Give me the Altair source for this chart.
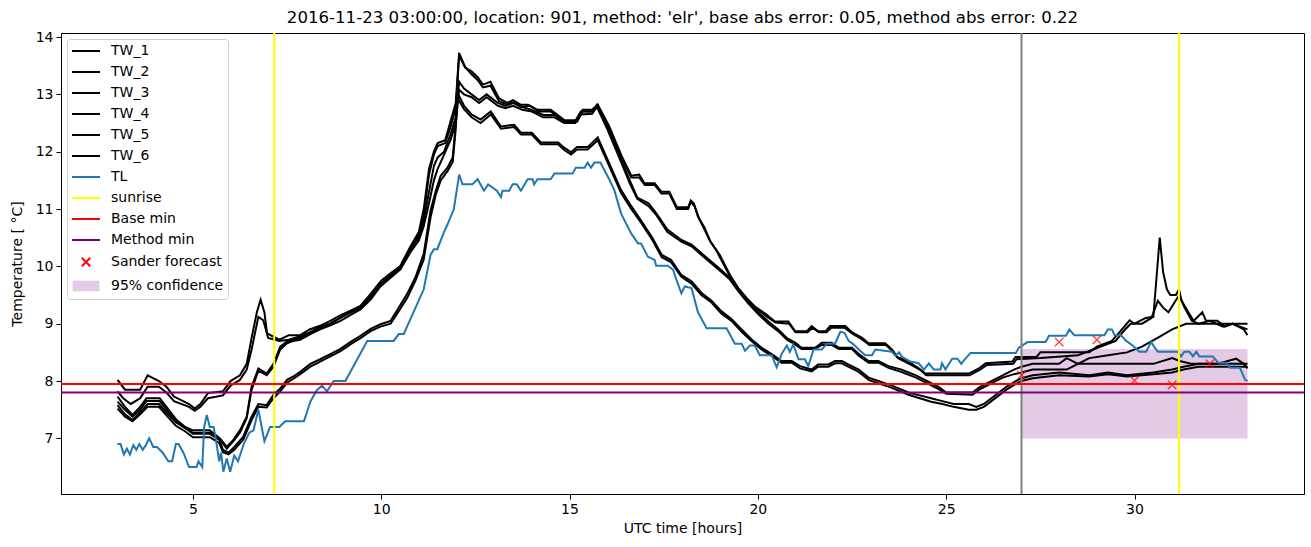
import altair as alt
import pandas as pd

# ---------------- data ----------------
tw1 = [(3.0,8.02),(3.2,7.85),(3.6,7.85),(3.8,8.1),(4.1,8.0),(4.3,7.9),(4.5,7.73),(4.9,7.6),(5.05,7.52),(5.2,7.6),(5.4,7.79),(5.8,7.82),(6.0,8.0),(6.25,8.1),(6.43,8.3),(6.56,8.75),(6.7,9.2),(6.8,9.42),(6.9,9.2),(6.97,8.83),(7.3,8.72),(7.55,8.8),(7.85,8.8),(8.1,8.9),(8.4,8.97),(8.65,9.05),(8.9,9.14),(9.2,9.23),(9.45,9.31),(9.72,9.52),(10.0,9.75),(10.25,9.88),(10.5,10.0),(10.78,10.35),(11.0,10.6),(11.13,11.0),(11.27,11.7),(11.4,12.0),(11.5,12.15),(11.7,12.2),(11.85,12.55),(11.98,12.85),(12.07,13.72),(12.24,13.46),(12.4,13.4),(12.56,13.3),(12.7,13.17),(12.9,13.22),(13.13,12.93),(13.35,12.85),(13.5,12.9),(13.7,12.82),(13.9,12.82),(14.15,12.73),(14.5,12.73),(14.86,12.55),(15.2,12.55),(15.35,12.73),(15.6,12.73),(15.75,12.82),(16.05,12.45),(16.38,11.93),(16.64,11.58),(16.85,11.6),(16.99,11.45),(17.26,11.45),(17.44,11.3),(17.65,11.3),(17.85,11.03),(18.15,11.03),(18.22,11.15),(18.3,11.1),(18.41,10.87),(18.59,10.67),(18.72,10.46),(18.86,10.32),(18.99,10.2),(19.26,9.85),(19.48,9.62),(19.7,9.45),(19.92,9.3),(20.23,9.16),(20.45,9.04),(20.81,9.04),(20.99,8.87),(21.3,8.87),(21.43,8.96),(21.6,8.87),(21.8,8.87),(21.92,8.96),(22.32,8.96),(22.5,8.85),(22.76,8.76),(22.94,8.66),(23.38,8.66),(23.56,8.55),(23.7,8.42),(24.0,8.34),(24.27,8.22),(24.45,8.13),(25.6,8.13),(25.87,8.22),(26.05,8.31),(26.76,8.34),(26.84,8.42),(27.4,8.42),(27.5,8.5),(28.8,8.5),(29.0,8.6),(29.4,8.7),(29.6,8.85),(29.87,9.06),(30.0,9.0),(30.3,9.1),(30.5,9.12),(30.67,10.5),(30.76,9.9),(30.86,9.6),(30.95,9.5),(31.1,9.5),(31.18,9.6),(31.25,9.4),(31.43,9.2),(31.57,9.05),(31.8,9.2),(31.9,9.05),(32.2,9.05),(32.4,8.95),(32.6,9.0),(32.9,8.9),(33.0,8.8)]

tw2 = [(3.0,7.82),(3.15,7.7),(3.35,7.6),(3.6,7.7),(3.8,7.9),(4.1,7.9),(4.3,7.8),(4.5,7.65),(4.9,7.55),(5.05,7.48),(5.2,7.55),(5.4,7.7),(5.8,7.75),(6.0,7.92),(6.25,8.02),(6.43,8.2),(6.56,8.55),(6.74,9.12),(6.87,9.06),(7.0,8.75),(7.3,8.7),(7.55,8.72),(7.85,8.78),(8.1,8.85),(8.4,8.93),(8.65,9.0),(8.9,9.1),(9.2,9.2),(9.45,9.27),(9.72,9.45),(10.0,9.7),(10.25,9.85),(10.5,9.95),(10.78,10.3),(11.0,10.55),(11.13,10.9),(11.27,11.6),(11.4,11.95),(11.5,12.1),(11.7,12.15),(11.85,12.45),(11.98,12.75),(12.07,13.68),(12.2,13.5),(12.4,13.35),(12.56,13.25),(12.7,13.12),(12.9,13.15),(13.13,12.88),(13.35,12.82),(13.5,12.86),(13.7,12.78),(13.95,12.8),(14.2,12.7),(14.5,12.7),(14.86,12.52),(15.2,12.52),(15.35,12.7),(15.6,12.7),(15.75,12.8),(16.05,12.4),(16.38,11.9),(16.64,11.55),(16.85,11.55),(17.0,11.42),(17.26,11.42),(17.44,11.27),(17.65,11.27),(17.85,11.0),(18.15,11.0),(18.22,11.12),(18.32,11.05),(18.45,10.82),(18.6,10.62),(18.75,10.42),(18.9,10.28),(19.0,10.15),(19.28,9.8),(19.5,9.6),(19.72,9.42),(19.95,9.27),(20.25,9.12),(20.47,9.02),(20.83,9.0),(21.0,8.85),(21.32,8.85),(21.45,8.93),(21.62,8.85),(21.82,8.85),(21.95,8.93),(22.3,8.93),(22.52,8.82),(22.78,8.72),(22.96,8.63),(23.4,8.63),(23.58,8.52),(23.72,8.4),(24.02,8.3),(24.3,8.2),(24.47,8.1),(25.62,8.1),(25.9,8.2),(26.08,8.28),(26.78,8.3),(26.87,8.38),(27.5,8.4),(28.5,8.45),(28.9,8.55),(29.5,8.7),(29.75,8.9),(29.9,9.0),(30.2,9.0),(30.45,9.1),(30.62,9.4),(30.76,9.28),(30.9,9.2),(31.09,9.4),(31.19,9.5),(31.33,9.28),(31.52,9.05),(31.7,9.0),(32.0,9.05),(32.35,8.95),(32.6,9.0),(33.0,8.9)]

tw3 = [(3.0,7.73),(3.2,7.55),(3.4,7.41),(3.6,7.55),(3.77,7.7),(4.12,7.7),(4.3,7.55),(4.57,7.32),(4.8,7.2),(5.0,7.14),(5.45,7.14),(5.72,7.0),(5.9,6.85),(6.07,6.97),(6.25,7.14),(6.43,7.38),(6.56,7.9),(6.74,8.22),(6.96,8.13),(7.14,8.3),(7.32,8.6),(7.5,8.69),(7.67,8.72),(7.85,8.75),(8.12,8.85),(8.38,8.95),(8.65,9.0),(8.92,9.1),(9.18,9.2),(9.45,9.3),(9.72,9.48),(9.98,9.7),(10.25,9.83),(10.51,9.98),(10.78,10.3),(11.0,10.5),(11.13,10.8),(11.27,11.3),(11.4,11.75),(11.5,11.9),(11.67,12.0),(11.84,12.3),(11.98,12.6),(12.07,13.22),(12.2,13.1),(12.4,13.0),(12.6,12.9),(12.8,13.0),(13.1,12.85),(13.3,12.8),(13.5,12.85),(13.75,12.78),(14.0,12.73),(14.3,12.64),(14.6,12.64),(14.86,12.53),(15.15,12.53),(15.3,12.7),(15.6,12.7),(15.73,12.82),(16.0,12.45),(16.37,11.86),(16.6,11.5),(16.8,11.2),(17.1,11.1),(17.3,10.93),(17.6,10.64),(17.97,10.46),(18.24,10.38),(18.59,10.18),(18.95,9.98),(19.26,9.8),(19.48,9.6),(19.75,9.38),(20.01,9.2),(20.28,9.04),(20.54,8.9),(20.77,8.75),(20.99,8.67),(21.16,8.58),(21.52,8.58),(21.7,8.67),(21.96,8.67),(22.15,8.58),(22.5,8.58),(22.68,8.47),(22.94,8.35),(23.2,8.35),(23.47,8.26),(23.8,8.2),(24.2,8.1),(24.5,8.0),(24.8,7.9),(25.0,7.8),(25.7,7.8),(25.9,7.9),(26.2,8.0),(26.5,8.1),(26.8,8.2),(27.0,8.25),(27.3,8.3),(28.0,8.3),(28.2,8.4),(28.5,8.3),(28.8,8.4),(29.3,8.45),(29.8,8.5),(30.2,8.6),(30.66,8.77),(31.0,8.9),(31.37,9.0),(33.0,9.0)]

tw4 = [(3.0,7.64),(3.2,7.5),(3.4,7.38),(3.6,7.5),(3.77,7.65),(4.12,7.65),(4.3,7.5),(4.57,7.28),(4.8,7.18),(5.0,7.1),(5.45,7.1),(5.72,6.98),(5.9,6.82),(6.07,6.95),(6.25,7.1),(6.43,7.35),(6.56,7.85),(6.74,8.18),(6.96,8.1),(7.14,8.25),(7.32,8.55),(7.5,8.66),(7.67,8.7),(7.85,8.72),(8.12,8.82),(8.38,8.9),(8.65,8.97),(8.92,9.05),(9.18,9.15),(9.45,9.25),(9.72,9.42),(9.98,9.65),(10.25,9.8),(10.51,9.95),(10.78,10.25),(11.0,10.45),(11.13,10.7),(11.27,11.1),(11.4,11.5),(11.5,11.7),(11.67,11.95),(11.84,12.2),(11.98,12.5),(12.07,13.08),(12.2,13.0),(12.4,12.95),(12.6,12.85),(12.8,12.95),(13.1,12.8),(13.3,12.76),(13.5,12.8),(13.75,12.73),(14.0,12.7),(14.3,12.6),(14.6,12.6),(14.86,12.5),(15.15,12.5),(15.3,12.65),(15.6,12.66),(15.73,12.78),(16.0,12.4),(16.37,11.82),(16.6,11.45),(16.8,11.18),(17.1,11.05),(17.3,10.9),(17.6,10.6),(17.97,10.43),(18.24,10.35),(18.59,10.15),(18.95,9.95),(19.26,9.77),(19.48,9.57),(19.75,9.35),(20.01,9.17),(20.28,9.0),(20.54,8.87),(20.77,8.72),(20.99,8.64),(21.16,8.56),(21.52,8.56),(21.7,8.63),(21.96,8.63),(22.15,8.56),(22.5,8.56),(22.68,8.44),(22.94,8.32),(23.2,8.32),(23.47,8.23),(23.8,8.16),(24.2,8.06),(24.5,7.96),(24.8,7.86),(25.0,7.78),(25.7,7.76),(25.9,7.86),(26.2,7.96),(26.5,8.06),(26.8,8.12),(27.0,8.15),(27.3,8.2),(28.2,8.2),(28.5,8.3),(29.0,8.3),(30.5,8.3),(31.0,8.4),(31.2,8.35),(31.5,8.3),(32.2,8.3),(32.7,8.39),(32.9,8.3),(33.0,8.22)]

tw5 = [(3.0,7.58),(3.2,7.42),(3.4,7.32),(3.6,7.45),(3.8,7.6),(4.1,7.6),(4.3,7.45),(4.55,7.28),(4.8,7.18),(5.0,7.08),(5.45,7.08),(5.7,6.98),(5.8,6.8),(5.95,6.75),(6.1,6.85),(6.34,7.03),(6.56,7.38),(6.74,7.6),(6.96,7.58),(7.14,7.76),(7.32,7.87),(7.5,8.02),(7.67,8.08),(7.85,8.16),(8.12,8.3),(8.38,8.38),(8.65,8.47),(8.92,8.56),(9.18,8.68),(9.45,8.79),(9.72,8.91),(9.98,8.99),(10.25,9.05),(10.42,9.23),(10.69,9.52),(10.91,9.81),(11.13,10.22),(11.31,10.97),(11.45,11.32),(11.58,11.58),(11.76,11.72),(11.9,11.9),(11.98,12.5),(12.03,13.02),(12.2,12.8),(12.4,12.65),(12.64,12.56),(12.91,12.7),(13.18,12.44),(13.53,12.47),(13.71,12.33),(14.0,12.33),(14.24,12.16),(14.7,12.16),(14.86,12.07),(15.04,11.99),(15.2,12.08),(15.48,12.08),(15.75,12.25),(16.02,11.85),(16.37,11.33),(16.64,11.05),(16.9,10.8),(17.2,10.5),(17.45,10.2),(17.7,10.11),(17.97,9.85),(18.24,9.74),(18.5,9.54),(18.77,9.4),(19.03,9.22),(19.3,9.08),(19.57,8.9),(19.83,8.73),(20.1,8.58),(20.37,8.47),(20.63,8.35),(20.9,8.35),(21.12,8.26),(21.43,8.2),(21.6,8.29),(21.87,8.29),(22.05,8.35),(22.23,8.35),(22.4,8.29),(22.68,8.2),(22.94,8.06),(23.2,8.0),(23.56,7.92),(24.0,7.8),(24.3,7.75),(24.6,7.7),(24.9,7.65),(25.2,7.6),(25.6,7.6),(25.8,7.55),(26.0,7.6),(26.2,7.7),(26.4,7.8),(26.6,7.9),(26.85,8.0),(27.0,8.05),(27.3,8.1),(28.0,8.15),(28.8,8.1),(29.3,8.15),(29.8,8.1),(30.5,8.15),(31.0,8.2),(31.3,8.25),(31.7,8.3),(33.0,8.3)]

tw6 = [(3.0,7.52),(3.2,7.38),(3.4,7.3),(3.6,7.42),(3.8,7.55),(4.1,7.55),(4.3,7.4),(4.55,7.22),(4.8,7.12),(5.0,7.02),(5.45,7.02),(5.7,6.92),(5.8,6.76),(5.95,6.72),(6.1,6.8),(6.34,6.98),(6.56,7.32),(6.74,7.55),(6.96,7.54),(7.14,7.7),(7.32,7.82),(7.5,7.97),(7.67,8.04),(7.85,8.12),(8.12,8.25),(8.38,8.34),(8.65,8.43),(8.92,8.52),(9.18,8.64),(9.45,8.75),(9.72,8.87),(9.98,8.95),(10.25,9.0),(10.42,9.17),(10.69,9.45),(10.91,9.75),(11.13,10.12),(11.31,10.85),(11.45,11.25),(11.58,11.5),(11.76,11.66),(11.9,11.82),(11.98,12.4),(12.03,12.93),(12.2,12.74),(12.4,12.6),(12.64,12.5),(12.91,12.65),(13.18,12.4),(13.53,12.43),(13.71,12.3),(14.0,12.3),(14.24,12.13),(14.7,12.13),(14.86,12.03),(15.04,11.95),(15.2,12.04),(15.48,12.04),(15.75,12.2),(16.02,11.8),(16.37,11.28),(16.64,11.0),(16.9,10.76),(17.2,10.46),(17.45,10.16),(17.7,10.07),(17.97,9.82),(18.24,9.7),(18.5,9.5),(18.77,9.37),(19.03,9.18),(19.3,9.05),(19.57,8.86),(19.83,8.7),(20.1,8.55),(20.37,8.44),(20.63,8.32),(20.9,8.32),(21.12,8.22),(21.43,8.17),(21.6,8.25),(21.87,8.25),(22.05,8.31),(22.23,8.31),(22.4,8.25),(22.68,8.16),(22.94,8.02),(23.2,7.96),(23.56,7.88),(24.0,7.76),(24.3,7.7),(24.6,7.64),(24.9,7.6),(25.2,7.55),(25.6,7.5),(25.8,7.5),(26.0,7.55),(26.2,7.65),(26.4,7.75),(26.6,7.85),(26.85,7.95),(27.0,8.0),(27.3,8.05),(28.0,8.1),(28.8,8.08),(29.3,8.12),(29.8,8.08),(30.5,8.12),(31.0,8.15),(31.3,8.2),(31.7,8.25),(33.0,8.25)]

tl = [(3.0,6.9),(3.08,6.9),(3.17,6.72),(3.25,6.82),(3.33,6.72),(3.42,6.88),(3.5,6.8),(3.58,6.9),(3.67,6.8),(3.75,6.88),(3.84,7.0),(3.95,6.85),(4.05,6.85),(4.2,6.75),(4.35,6.6),(4.45,6.6),(4.55,6.9),(4.62,6.9),(4.75,6.75),(4.9,6.5),(5.1,6.5),(5.15,6.6),(5.25,6.5),(5.3,7.2),(5.37,7.41),(5.45,7.2),(5.55,7.2),(5.62,6.95),(5.7,6.6),(5.75,6.75),(5.81,6.42),(5.9,6.65),(5.99,6.42),(6.1,6.7),(6.2,6.6),(6.35,6.9),(6.5,7.1),(6.61,7.14),(6.74,7.5),(6.9,6.95),(7.05,7.2),(7.3,7.2),(7.45,7.3),(7.95,7.3),(8.05,7.5),(8.12,7.64),(8.29,7.84),(8.43,7.92),(8.56,7.82),(8.74,8.0),(9.05,8.0),(9.63,8.7),(10.33,8.7),(10.47,8.82),(10.6,8.82),(11.13,9.6),(11.31,10.2),(11.4,10.3),(11.49,10.3),(11.67,10.6),(11.76,10.73),(11.93,11.0),(12.07,11.6),(12.16,11.43),(12.42,11.43),(12.56,11.52),(12.73,11.32),(12.84,11.43),(13.07,11.32),(13.18,11.21),(13.22,11.32),(13.4,11.32),(13.49,11.43),(13.6,11.43),(13.71,11.32),(13.89,11.52),(14.02,11.52),(14.06,11.43),(14.15,11.52),(14.5,11.52),(14.6,11.62),(15.08,11.62),(15.17,11.72),(15.4,11.72),(15.48,11.81),(15.57,11.72),(15.66,11.81),(15.82,11.81),(16.06,11.51),(16.19,11.33),(16.37,10.92),(16.64,10.57),(16.82,10.4),(16.9,10.4),(17.08,10.17),(17.26,10.11),(17.3,10.01),(17.61,10.01),(17.75,9.94),(17.81,9.82),(17.97,9.53),(18.06,9.65),(18.24,9.62),(18.41,9.2),(18.64,8.92),(19.17,8.92),(19.39,8.65),(19.57,8.65),(19.66,8.53),(19.79,8.62),(19.92,8.62),(20.05,8.45),(20.37,8.45),(20.5,8.24),(20.63,8.47),(20.77,8.62),(20.85,8.51),(20.94,8.64),(21.08,8.38),(21.25,8.38),(21.34,8.26),(21.48,8.55),(21.7,8.55),(21.83,8.65),(22.05,8.65),(22.19,8.86),(22.3,8.84),(22.41,8.7),(22.54,8.64),(22.68,8.55),(22.85,8.45),(23.03,8.45),(23.12,8.55),(23.56,8.51),(23.65,8.44),(23.75,8.5),(23.83,8.42),(24.05,8.34),(24.27,8.31),(24.41,8.2),(24.54,8.31),(24.67,8.2),(24.85,8.2),(24.89,8.31),(24.98,8.2),(25.16,8.39),(25.3,8.39),(25.4,8.3),(25.51,8.39),(25.65,8.49),(26.85,8.49),(26.93,8.58),(27.16,8.68),(27.64,8.68),(27.73,8.79),(28.18,8.79),(28.27,8.9),(28.4,8.8),(29.2,8.8),(29.29,8.9),(29.4,8.9),(29.47,8.8),(29.64,8.8),(29.78,8.7),(29.95,8.62),(30.13,8.51),(30.31,8.51),(30.44,8.68),(30.52,8.6),(30.62,8.51),(31.15,8.51),(31.24,8.43),(31.32,8.51),(31.46,8.51),(31.55,8.43),(31.64,8.51),(31.72,8.43),(32.08,8.43),(32.22,8.32),(32.44,8.32),(32.53,8.23),(32.8,8.23),(32.93,8.03),(33.0,8.0)]

sunrise_hours = [7.16, 31.18]
forecast_start = [27.0]
base_min = [7.95]
method_min = [7.8]
sander_hours = [27, 28, 29, 30, 31, 32]
sander_values = [8.1, 8.68, 8.72, 8.01, 7.93, 8.3]
conf_start, conf_end = [27.0], [33.0]
conf_low, conf_high = [7.0], [8.56]

legend_labels = ["TW_1", "TW_2", "TW_3", "TW_4", "TW_5", "TW_6", "TL", "sunrise",
                 "Base min", "Method min", "Sander forecast", "95% confidence"]

title_text = ("2016-11-23 03:00:00, location: 901, method: 'elr', "
              "base abs error: 0.05, method abs error: 0.22")

# ---------------- tables ----------------
rows = []
for name, pts in [("TW_1", tw1), ("TW_2", tw2), ("TW_3", tw3),
                  ("TW_4", tw4), ("TW_5", tw5), ("TW_6", tw6)]:
    for h, v in pts:
        rows.append({"series": name, "hour": h, "value": v})
tw_df = pd.DataFrame(rows)
tl_df = pd.DataFrame(tl, columns=["hour", "value"])
sun_df = pd.DataFrame({"hour": sunrise_hours})
now_df = pd.DataFrame({"hour": forecast_start})
base_df = pd.DataFrame({"value": base_min})
meth_df = pd.DataFrame({"value": method_min})
sander_df = pd.DataFrame({"hour": sander_hours, "value": sander_values})
conf_df = pd.DataFrame({"start": conf_start, "end": conf_end,
                        "low": conf_low, "high": conf_high})
legend_df = pd.DataFrame({"label": legend_labels})

FONT = "DejaVu Sans"
BLUE = "#1f77b4"
PINK = "#e4cae4"
# legend symbols (unit = 7 px at symbolSize 196), shifted right of the symbol column
LINE_PATH = "M-1,0L3,0"
X_PATH_LEG = "M0.4,-0.6L1.6,0.6M0.4,0.6L1.6,-0.6"
# solid patch: closely spaced stroked lines so the 2px strokes fill it completely
RECT_PATH = "".join("M-0.9,%sL2.9,%s" % (v, v) for v in
                    ["-0.6", "-0.45", "-0.3", "-0.15", "0", "0.15", "0.3", "0.45", "0.6"])
X_PATH = "M-1,-1L1,1M-1,1L1,-1"

xs = alt.Scale(domain=[1.5, 34.5], nice=False, zero=False)
ys = alt.Scale(domain=[6.03, 14.07], nice=False, zero=False)

x_axis = alt.Axis(values=[5, 10, 15, 20, 25, 30], title="UTC time [hours]", grid=False,
                  tickSize=5, labelPadding=3, titlePadding=5, format="d")
y_axis = alt.Axis(values=[7, 8, 9, 10, 11, 12, 13, 14], title="Temperature [ °C]",
                  grid=False, tickSize=5, labelPadding=3, titlePadding=11, format="d")

X = alt.X("hour:Q", scale=xs, axis=x_axis)
Y = alt.Y("value:Q", scale=ys, axis=y_axis)

conf = alt.Chart(conf_df).mark_rect(color=PINK).encode(
    x=alt.X("start:Q", scale=xs, axis=x_axis), x2="end:Q",
    y=alt.Y("low:Q", scale=ys, axis=y_axis), y2="high:Q")

tw_lines = alt.Chart(tw_df).mark_line(color="black", strokeWidth=2).encode(
    x=X, y=Y, detail="series:N")

tl_line = alt.Chart(tl_df).mark_line(color=BLUE, strokeWidth=2).encode(x=X, y=Y)

sun_rules = alt.Chart(sun_df).mark_rule(color="yellow", strokeWidth=2).encode(x=X)
now_rule = alt.Chart(now_df).mark_rule(color="grey", strokeWidth=2).encode(x=X)
base_rule = alt.Chart(base_df).mark_rule(color="red", strokeWidth=2).encode(y=Y)
meth_rule = alt.Chart(meth_df).mark_rule(color="purple", strokeWidth=2).encode(y=Y)

sander = alt.Chart(sander_df).mark_point(shape=X_PATH, color="red", filled=False,
                                         size=72, strokeWidth=1.5).encode(x=X, y=Y)

shapes = [LINE_PATH] * 10 + [X_PATH_LEG, RECT_PATH]
strokes = ["black"] * 6 + [BLUE, "yellow", "red", "purple", "red", PINK]
fills = ["transparent"] * 11 + [PINK]

leg = alt.Legend(title=None, orient="top-left", offset=6, padding=4, rowPadding=6,
                 symbolSize=196, symbolStrokeWidth=2, labelOffset=24,
                 labelFontSize=14, labelFont=FONT, labelColor="black",
                 fillColor="rgba(255,255,255,0.8)", strokeColor="#cccccc",
                 cornerRadius=3)

legend_carrier = alt.Chart(legend_df).mark_point(opacity=0, filled=True, strokeWidth=2).encode(
    shape=alt.Shape("label:N", scale=alt.Scale(domain=legend_labels, range=shapes), legend=leg),
    stroke=alt.Stroke("label:N", scale=alt.Scale(domain=legend_labels, range=strokes), legend=leg),
    fill=alt.Fill("label:N", scale=alt.Scale(domain=legend_labels, range=fills), legend=leg),
)

chart = alt.layer(
    conf, tw_lines, tl_line, sun_rules, now_rule, base_rule, meth_rule, sander, legend_carrier
).properties(
    width=1243, height=461,
    title=alt.TitleParams(text=title_text, fontSize=16.6, font=FONT, fontWeight="normal",
                          anchor="middle", offset=3, color="black"),
    autosize=alt.AutoSizeParams(type="none"),
    padding={"left": 61, "top": 33, "right": 7, "bottom": 53},
).configure_view(
    stroke="black", strokeWidth=1
).configure_axis(
    labelFont=FONT, titleFont=FONT, labelFontSize=14, titleFontSize=14,
    labelColor="black", titleColor="black", titleFontWeight="normal",
    domainColor="black", tickColor="black", domainWidth=1, tickWidth=1
)

chart.save("out.html", embed_options={"renderer": "svg", "actions": False})
